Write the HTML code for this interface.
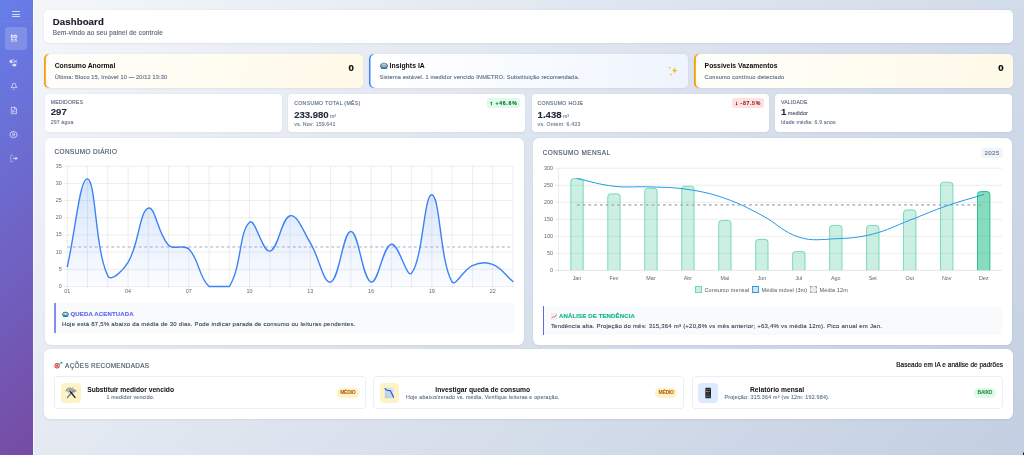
<!DOCTYPE html>
<html lang="pt-BR">
<head>
<meta charset="utf-8">
<title>Dashboard</title>
<style>
*{box-sizing:border-box;margin:0;padding:0}
html,body{width:1024px;height:455px;overflow:hidden}
body{font-family:"Liberation Sans",sans-serif;color:#1e293b;background:linear-gradient(135deg,#f5f7fa 0%,#c3cfe2 100%);position:relative;-webkit-font-smoothing:antialiased}
.app{position:absolute;left:0;top:0;width:1024px;height:455px;overflow:hidden;will-change:transform}
.t{white-space:nowrap;display:inline-block}
/* sidebar */
.sidebar{position:absolute;left:0;top:0;width:32.9px;height:455px;background:linear-gradient(135deg,#667eea 0%,#764ba2 100%)}
.sidebar:after{content:"";position:absolute;left:32.9px;top:0;width:.8px;height:455px;background:rgba(255,255,255,.6)}
.sb-sep{position:absolute;left:0;top:21.3px;width:32.9px;height:.5px;background:rgba(255,255,255,.05)}
.sb-act{position:absolute;left:4.9px;top:27.1px;width:21.9px;height:22.7px;border-radius:3.2px;background:rgba(255,255,255,.17)}
.sb-icons{position:absolute;left:0;top:0}
.burger{position:absolute;left:11.8px;top:11px;width:8.2px;height:6.6px}
.burger i{position:absolute;left:0;width:8.2px;height:1px;background:rgba(255,255,255,.72);border-radius:.5px}
/* cards */
.card{position:absolute;background:#fff;border-radius:4.8px;box-shadow:0 .8px 2.4px rgba(30,41,80,.07)}
.hdr{left:44.4px;top:10px;width:968.5px;height:32.8px}
.hdr h1{position:absolute;left:8.4px;top:5.9px;font-size:9.6px;line-height:12px;font-weight:700;color:#1a1a2e;-webkit-text-stroke:.15px}
.hdr p{position:absolute;left:8.4px;top:18.9px;font-size:6.4px;line-height:8px;color:#626a78;-webkit-text-stroke:.16px}
/* alerts */
.alert{position:absolute;top:54.3px;width:318.6px;height:33.5px;border-radius:4.8px}
.alert.warn{background:linear-gradient(100deg,#fffefa 0%,#fffcf2 50%,#fff9e7 100%);box-shadow:inset 1.8px 0 0 #f59e0b,0 .8px 2.4px rgba(30,41,80,.06)}
.alert.info{background:linear-gradient(100deg,#ffffff 0%,#f8fbff 50%,#eef4fe 100%);box-shadow:inset 1.5px 0 0 #3b82f6,0 .8px 2.4px rgba(30,41,80,.06)}
.alert h3{position:absolute;left:10.3px;top:8.1px;font-size:6.8px;line-height:8px;font-weight:700;color:#0b0b0f}
.alert p{position:absolute;left:10.3px;top:19.7px;font-size:5.6px;line-height:7px;color:#64748b;-webkit-text-stroke:.15px}
.alert .num{position:absolute;right:9.2px;top:7.9px;font-size:9.6px;line-height:12px;font-weight:700;color:#0b0b0f;-webkit-text-stroke:.22px}
.ico{display:inline-block;vertical-align:top}
/* stats */
.stat{position:absolute;top:93.5px;width:237.3px;height:38.9px;background:#fff;border-radius:4px;box-shadow:0 .8px 2.4px rgba(30,41,80,.06)}
.stat .lb{position:absolute;left:6.1px;font-size:5.2px;line-height:6px;color:#64748b;font-weight:400;-webkit-text-stroke:.16px}
.stat .v{position:absolute;left:6.1px;font-size:9.6px;line-height:10px;font-weight:700;color:#1e293b;-webkit-text-stroke:.12px}
.stat .v small{font-size:5.2px;font-weight:400;color:#64748b;margin-left:1.4px;-webkit-text-stroke:.08px}
.stat .v em{font-style:normal;font-size:5.6px;font-weight:400;color:#475569;margin-left:1.4px;-webkit-text-stroke:.1px}
.stat .s{position:absolute;left:6.1px;font-size:5.2px;line-height:6px;color:#64748b;-webkit-text-stroke:.1px}
.badge{position:absolute;right:5.1px;top:4.5px;height:10px;border-radius:2.6px;font-size:5.2px;line-height:10px;font-weight:700;padding:0 2.8px 0 3.2px;-webkit-text-stroke:.1px}
.badge .ar{-webkit-text-stroke:.45px}
.badge.up{background:#dcfce7;color:#166534}
.badge.down{background:#fee2e2;color:#991b1b}
/* chart cards */
.cc{border-radius:6.4px}
.cc h2,.acts h2{position:absolute;font-size:6.4px;line-height:8px;font-weight:400;color:#475569;-webkit-text-stroke:.14px}
.pill{position:absolute;width:21.6px;height:10px;border-radius:2.8px;background:#f1f5f9;color:#64748b;font-size:6.2px;letter-spacing:.3px;-webkit-text-stroke:.12px;line-height:10px;text-align:center}
svg.chart{position:absolute;left:0;top:0;width:1024px;height:455px;pointer-events:none}
svg.chart .g{stroke:rgba(0,0,0,.13);stroke-width:.55}
svg.chart .g0{stroke:rgba(0,0,0,.2);stroke-width:.55}
svg.chart .tk{font-family:"Liberation Sans",sans-serif;font-size:5.4px;fill:#666}
.legend{position:absolute;top:285.6px;left:695.3px;font-size:5.5px;line-height:8px;color:#555;white-space:nowrap}
.legend i{display:inline-block;width:6.6px;height:7px;vertical-align:-1.6px;margin-right:2.6px}
.legend span{margin-right:1.5px}
.box{position:absolute;background:#f8fafc;border-radius:0 2.4px 2.4px 0}
.box:before{content:"";position:absolute;left:0;top:0;height:100%}
.box.l:before{width:1.7px;background:#818cf8}
.box.r:before{width:1.2px;background:#6366f1}
.box h4{position:absolute;left:7.9px;font-size:6px;line-height:7px;font-weight:700;white-space:nowrap;-webkit-text-stroke:.15px}
.box p{position:absolute;left:7.9px;font-size:6px;line-height:7px;color:#334155;white-space:nowrap;-webkit-text-stroke:.1px}
.corner{position:absolute;right:-2px;bottom:-1.5px;width:3.2px;height:4.6px;border-radius:1.6px;background:#0b0d12}
/* actions */
.acts{left:44.4px;top:348.8px;width:968.5px;height:70px;border-radius:6.4px}
.acts .note{position:absolute;right:9.8px;top:12.6px;font-size:6.4px;line-height:8px;color:#111318;-webkit-text-stroke:.2px #111318}
.act{position:absolute;top:27.6px;width:311px;height:32.8px;border-radius:4.4px;background:#fff;box-shadow:inset 0 0 0 .7px #e3e9f1}
.act .ib{position:absolute;left:7px;top:7px;width:19.4px;height:19.4px;border-radius:4px}
.act .tx{position:absolute;top:9.4px;text-align:center}
.act .tx b{display:block;font-size:6.7px;line-height:8px;font-weight:700;color:#0b0b0f;white-space:nowrap}
.act .tx span.sub{display:block;font-size:5.3px;line-height:6px;margin-top:.5px;color:#64748b;white-space:nowrap;-webkit-text-stroke:.12px}
.tag{position:absolute;right:6.7px;top:12px;height:9.2px;border-radius:4.6px;font-size:5px;line-height:9.2px;font-weight:700;padding:0 3.6px}
.tag.med{background:#fef3c7;color:#b45309}
.tag.low{background:#dcfce7;color:#15803d}
</style>
</head>
<body>
<div class="app">
<aside class="sidebar">
  <div class="burger"><i style="top:0"></i><i style="top:2.7px"></i><i style="top:5.4px"></i></div>
  <div class="sb-sep"></div>
  <div class="sb-act"></div>
  <svg class="sb-icons" width="33" height="170" viewBox="0 0 33 170" aria-hidden="true">
    <g fill="none" stroke="#fff" stroke-linecap="round" stroke-linejoin="round">
      <g stroke-width=".85" stroke-opacity=".95"><rect x="11.300" y="35.300" width="1.900" height="2.700" rx=".2"/><rect x="14.800" y="35.300" width="1.900" height="2.700" rx=".2"/></g>
      <g stroke-width=".8" stroke-opacity=".62"><rect x="11.300" y="39.500" width="1.900" height="1.900" rx=".2"/><rect x="14.800" y="39.500" width="1.900" height="1.900" rx=".2"/></g>
      <g stroke-opacity=".85" stroke-width=".75"><rect x="10.400" y="60.300" width="1.700" height="2.300" fill="#fff" fill-opacity=".75"/><rect x="13.200" y="64.300" width="2.700" height="1.600" fill="#fff" fill-opacity=".75"/><path d="M13.400 62.700 16.800 60.200M14.200 60.600 16.800 62.600M13.200 59.300h.2"/></g>
      <g stroke-opacity=".85" stroke-width=".7"><path d="M11.300 87.400c.9-.6 1-1.500 1-2.400a1.750 1.750 0 0 1 3.500 0c0 .9.100 1.800 1 2.400zM13.400 89.400h.6"/></g>
      <g stroke-opacity=".85" stroke-width=".7"><path d="M14.600 107.300h-3.300v6.400h5.200v-4.500zM14.600 107.300v1.900h1.900M12.500 110.300h1M12.500 111.800h2.700"/></g>
      <g stroke-opacity=".85" stroke-width=".75"><circle cx="13.500" cy="134.500" r="1.100"/><path d="M13.500 131.300l.9.700 1.200-.2.400 1.100 1.100.600-.4 1.100.4 1.100-1.100.6-.4 1.100-1.200-.2-.9.700-.9-.7-1.200.2-.4-1.100-1.100-.6.400-1.100-.4-1.100 1.100-.6.400-1.100 1.200.2z"/></g>
      <path d="M12.700 155.200h-1.200a.7.700 0 0 0-.7.700v5.200a.7.700 0 0 0 .7.700h1.200" stroke-opacity=".55" stroke-width=".75"/>
      <path d="M13.300 158.400h3.600M15.500 156.900l1.500 1.500-1.500 1.500" stroke-opacity=".9" stroke-width=".8"/>
    </g>
  </svg>
</aside>

<header class="card hdr">
  <h1><span id="h1" class="t" style="letter-spacing:0.109px">Dashboard</span></h1>
  <p><span id="h1s" class="t" style="letter-spacing:0.184px">Bem-vindo ao seu painel de controle</span></p>
</header>

<section class="alert warn" style="left:44.4px">
  <h3><span id="a1t" class="t" style="letter-spacing:0.004px">Consumo Anormal</span></h3>
  <p><span id="a1s" class="t" style="letter-spacing:0.154px">Última: Bloco 15, Imóvel 10 — 20/12 13:30</span></p>
  <div class="num">0</div>
</section>
<section class="alert info" style="left:369.2px">
  <h3><svg class="ico" width="8" height="7.4" viewBox="0 0 43 40" style="margin:-.3px 1.5px 0 .5px"><rect x="19" y="0" width="5" height="9" rx="2" fill="#f59e0b"/><rect x="0" y="14" width="6" height="13" rx="3" fill="#e0393e"/><rect x="37" y="14" width="6" height="13" rx="3" fill="#e0393e"/><rect x="4" y="7" width="35" height="33" rx="8" fill="#2a9bb5"/><rect x="9" y="12" width="25" height="13" rx="5" fill="#c9ecf3"/><circle cx="16" cy="18.500" r="3" fill="#e0393e"/><circle cx="27" cy="18.500" r="3" fill="#e0393e"/><rect x="12" y="30" width="19" height="5" rx="2" fill="#1b6f85"/></svg><span id="a2t" class="t" style="letter-spacing:0.055px">Insights IA</span></h3>
  <p><span id="a2s" class="t" style="letter-spacing:0.195px">Sistema estável. 1 medidor vencido INMETRO. Substituição recomendada.</span></p>
  <svg style="position:absolute;left:297.8px;top:10.4px" width="12" height="12" viewBox="0 0 22 22"><path d="M14 3.500c.6 4.600 1.900 6 6.500 6.600-4.600.6-5.900 2-6.500 6.600-.6-4.600-1.900-6-6.500-6.600 4.600-.6 5.900-2 6.500-6.600z" fill="#f8b92a"/><path d="M5 2c.3 2.100.9 2.700 3 3-2.100.3-2.700.9-3 3-.3-2.100-.9-2.700-3-3 2.100-.3 2.700-.9 3-3zM7.500 14c.3 2.300 1 3 3.300 3.300-2.300.3-3 1-3.300 3.300-.3-2.300-1-3-3.300-3.300 2.300-.3 3-1 3.300-3.300z" fill="#fbc83c"/></svg>
</section>
<section class="alert warn" style="left:694.3px">
  <h3><span id="a3t" class="t" style="letter-spacing:0.019px">Possíveis Vazamentos</span></h3>
  <p><span id="a3s" class="t" style="letter-spacing:0.260px">Consumo contínuo detectado</span></p>
  <div class="num">0</div>
</section>

<section class="stat" style="left:44.7px">
  <div class="lb" style="top:5.6px"><span id="s1l" class="t" style="letter-spacing:0.085px">MEDIDORES</span></div>
  <div class="v" style="top:13.7px"><span id="s1v" class="t" style="letter-spacing:-0.008px">297</span></div>
  <div class="s" style="top:25.6px"><span id="s1s" class="t" style="letter-spacing:0.123px">297 água</span></div>
</section>
<section class="stat" style="left:288.1px">
  <div class="lb" style="top:6.8px"><span id="s2l" class="t" style="letter-spacing:0.304px">CONSUMO TOTAL (MÊS)</span></div>
  <div class="badge up"><span id="s2b" class="t" style="letter-spacing:0.731px"><b class="ar">↑</b> +46.6%</span></div>
  <div class="v" style="top:16.3px"><span id="s2v" class="t" style="letter-spacing:-0.031px">233.980</span><small>m³</small></div>
  <div class="s" style="top:27.6px"><span id="s2s" class="t" style="letter-spacing:0.144px">vs. Nov: 159.641</span></div>
</section>
<section class="stat" style="left:531.5px">
  <div class="lb" style="top:6.8px"><span id="s3l" class="t" style="letter-spacing:0.284px">CONSUMO HOJE</span></div>
  <div class="badge down"><span id="s3b" class="t" style="letter-spacing:0.659px"><b class="ar">↓</b> -87.5%</span></div>
  <div class="v" style="top:16.3px"><span id="s3v" class="t" style="letter-spacing:-0.004px">1.438</span><small>m³</small></div>
  <div class="s" style="top:27.6px"><span id="s3s" class="t" style="letter-spacing:0.216px">vs. Ontem: 6.433</span></div>
</section>
<section class="stat" style="left:774.9px">
  <div class="lb" style="top:5.6px"><span id="s4l" class="t" style="letter-spacing:0.174px">VALIDADE</span></div>
  <div class="v" style="top:13.7px"><span id="s4v" class="t">1</span><em>medidor</em></div>
  <div class="s" style="top:25.6px"><span id="s4s" class="t" style="letter-spacing:0.163px">Idade média: 6.9 anos</span></div>
</section>

<section class="card cc" style="left:44.7px;top:138.4px;width:479.4px;height:206.4px">
  <h2 style="left:9.9px;top:9.9px"><span id="c1t" class="t" style="letter-spacing:0.402px">CONSUMO DIÁRIO</span></h2>
  <div class="box l" style="left:9.4px;top:164.9px;width:459.7px;height:29.3px">
    <h4 style="top:7.3px;color:#6366f1"><svg class="ico" width="6.9" height="6.4" viewBox="0 0 43 40" style="margin:.2px 1.7px 0 0"><rect x="19" y="0" width="5" height="9" rx="2" fill="#f59e0b"/><rect x="0" y="14" width="6" height="13" rx="3" fill="#e0393e"/><rect x="37" y="14" width="6" height="13" rx="3" fill="#e0393e"/><rect x="4" y="7" width="35" height="33" rx="8" fill="#2a9bb5"/><rect x="9" y="12" width="25" height="13" rx="5" fill="#c9ecf3"/><circle cx="16" cy="18.500" r="3" fill="#e0393e"/><circle cx="27" cy="18.500" r="3" fill="#e0393e"/><rect x="12" y="30" width="19" height="5" rx="2" fill="#1b6f85"/></svg><span id="b1t" class="t" style="letter-spacing:0.151px">QUEDA ACENTUADA</span></h4>
    <p style="top:17.3px"><span id="b1p" class="t" style="letter-spacing:0.231px">Hoje está 87,5% abaixo da média de 30 dias. Pode indicar parada de consumo ou leituras pendentes.</span></p>
  </div>
</section>
<section class="card cc" style="left:532.8px;top:138.4px;width:479.4px;height:206.4px">
  <h2 style="left:10px;top:10.4px"><span id="c2t" class="t" style="letter-spacing:0.443px">CONSUMO MENSAL</span></h2>
  <div class="box r" style="left:10.2px;top:167.5px;width:459.2px;height:28.9px">
    <h4 style="top:7.1px;color:#10b981"><svg class="ico" width="6.6" height="6.6" viewBox="0 0 20 20" style="margin:.1px 1.5px 0 0"><rect x="1" y="1" width="18" height="18" rx="2" fill="#f3f4f6" stroke="#d1d5db" stroke-width="1"/><path d="M3 15l5-5 3 3 6-8" fill="none" stroke="#ef4444" stroke-width="2.4" stroke-linejoin="round" stroke-linecap="round"/></svg><span id="b2t" class="t" style="letter-spacing:0.152px">ANÁLISE DE TENDÊNCIA</span></h4>
    <p style="top:16.8px"><span id="b2p" class="t" style="letter-spacing:0.224px">Tendência alta. Projeção do mês: 315,364 m³ (+20,8% vs mês anterior; +63,4% vs média 12m). Pico anual em Jan.</span></p>
  </div>
</section>
<div class="pill" style="left:981.3px;top:148px">2025</div>

<div class="legend"><i style="background:rgba(16,185,129,.22);box-shadow:inset 0 0 0 .8px rgba(16,185,129,.6)"></i><span><span id="lg1" class="t" style="letter-spacing:0.146px">Consumo mensal</span></span><i style="background:#dbe2ea;box-shadow:inset 0 0 0 .9px #1e9be9"></i><span><span id="lg2" class="t" style="letter-spacing:0.112px">Média móvel (3m)</span></span><i style="background:rgba(156,163,175,.22);border:1px dashed rgba(140,147,160,.75)"></i><span><span id="lg3" class="t" style="letter-spacing:0.135px">Média 12m</span></span></div>

<svg class="chart" viewBox="0 0 1024 455">
<defs><linearGradient id="lg" x1="0" y1="166" x2="0" y2="287" gradientUnits="userSpaceOnUse"><stop offset="0" stop-color="#3b82f6" stop-opacity=".24"/><stop offset="1" stop-color="#3b82f6" stop-opacity=".02"/></linearGradient></defs>
<line x1="63.20" y1="286.50" x2="512.90" y2="286.50" class="g"/>
<text x="61.70" y="288.05" class="tk" text-anchor="end">0</text>
<line x1="63.20" y1="269.31" x2="512.90" y2="269.31" class="g"/>
<text x="61.70" y="270.86" class="tk" text-anchor="end">5</text>
<line x1="63.20" y1="252.13" x2="512.90" y2="252.13" class="g"/>
<text x="61.70" y="253.68" class="tk" text-anchor="end">10</text>
<line x1="63.20" y1="234.94" x2="512.90" y2="234.94" class="g"/>
<text x="61.70" y="236.49" class="tk" text-anchor="end">15</text>
<line x1="63.20" y1="217.76" x2="512.90" y2="217.76" class="g"/>
<text x="61.70" y="219.31" class="tk" text-anchor="end">20</text>
<line x1="63.20" y1="200.57" x2="512.90" y2="200.57" class="g"/>
<text x="61.70" y="202.12" class="tk" text-anchor="end">25</text>
<line x1="63.20" y1="183.39" x2="512.90" y2="183.39" class="g"/>
<text x="61.70" y="184.94" class="tk" text-anchor="end">30</text>
<line x1="63.20" y1="166.20" x2="512.90" y2="166.20" class="g"/>
<text x="61.70" y="167.75" class="tk" text-anchor="end">35</text>
<line x1="67.30" y1="166.20" x2="67.30" y2="288.90" class="g"/>
<line x1="87.55" y1="166.20" x2="87.55" y2="288.90" class="g"/>
<line x1="107.81" y1="166.20" x2="107.81" y2="288.90" class="g"/>
<line x1="128.06" y1="166.20" x2="128.06" y2="288.90" class="g"/>
<line x1="148.32" y1="166.20" x2="148.32" y2="288.90" class="g"/>
<line x1="168.57" y1="166.20" x2="168.57" y2="288.90" class="g"/>
<line x1="188.83" y1="166.20" x2="188.83" y2="288.90" class="g"/>
<line x1="209.08" y1="166.20" x2="209.08" y2="288.90" class="g"/>
<line x1="229.34" y1="166.20" x2="229.34" y2="288.90" class="g"/>
<line x1="249.59" y1="166.20" x2="249.59" y2="288.90" class="g"/>
<line x1="269.85" y1="166.20" x2="269.85" y2="288.90" class="g"/>
<line x1="290.10" y1="166.20" x2="290.10" y2="288.90" class="g"/>
<line x1="310.35" y1="166.20" x2="310.35" y2="288.90" class="g"/>
<line x1="330.61" y1="166.20" x2="330.61" y2="288.90" class="g"/>
<line x1="350.86" y1="166.20" x2="350.86" y2="288.90" class="g"/>
<line x1="371.12" y1="166.20" x2="371.12" y2="288.90" class="g"/>
<line x1="391.37" y1="166.20" x2="391.37" y2="288.90" class="g"/>
<line x1="411.63" y1="166.20" x2="411.63" y2="288.90" class="g"/>
<line x1="431.88" y1="166.20" x2="431.88" y2="288.90" class="g"/>
<line x1="452.14" y1="166.20" x2="452.14" y2="288.90" class="g"/>
<line x1="472.39" y1="166.20" x2="472.39" y2="288.90" class="g"/>
<line x1="492.65" y1="166.20" x2="492.65" y2="288.90" class="g"/>
<line x1="512.90" y1="166.20" x2="512.90" y2="288.90" class="g"/>
<text x="67.30" y="293.40" class="tk" text-anchor="middle">01</text>
<text x="128.06" y="293.40" class="tk" text-anchor="middle">04</text>
<text x="188.83" y="293.40" class="tk" text-anchor="middle">07</text>
<text x="249.59" y="293.40" class="tk" text-anchor="middle">10</text>
<text x="310.35" y="293.40" class="tk" text-anchor="middle">13</text>
<text x="371.12" y="293.40" class="tk" text-anchor="middle">16</text>
<text x="431.88" y="293.40" class="tk" text-anchor="middle">19</text>
<text x="492.65" y="293.40" class="tk" text-anchor="middle">22</text>
<path d="M67.30 266.56 C75.40 231.51 79.84 177.15 87.55 178.92 C96.04 180.86 94.80 249.02 107.81 275.84 C111.00 282.43 123.28 270.44 128.06 262.44 C139.48 243.35 138.95 212.11 148.32 208.13 C155.15 205.23 157.68 234.25 168.57 245.25 C173.88 250.61 183.54 243.66 188.83 249.04 C199.75 260.15 198.10 276.34 209.08 286.50 C214.30 286.50 225.59 286.50 229.34 286.50 C241.80 266.73 238.95 231.52 249.59 222.23 C255.16 217.36 262.33 252.31 269.85 251.10 C278.54 249.70 281.25 217.50 290.10 215.69 C297.45 214.20 303.32 231.32 310.35 242.85 C319.52 257.86 323.36 284.06 330.61 282.03 C339.56 279.53 342.76 231.51 350.86 231.51 C358.97 231.51 362.06 279.19 371.12 282.03 C378.26 284.27 382.48 246.18 391.37 244.22 C398.68 242.61 406.71 279.10 411.63 273.10 C422.91 259.31 424.19 193.03 431.88 194.73 C440.40 196.61 439.59 260.10 452.14 282.03 C455.79 286.50 463.27 269.51 472.39 265.53 C479.47 262.45 485.63 261.61 492.65 264.39 C501.83 268.02 504.80 274.69 512.90 281.56 L512.90 286.50 L67.30 286.50 Z" fill="url(#lg)"/>
<line x1="67.30" y1="246.97" x2="512.90" y2="246.97" stroke="#93a5c4" stroke-opacity="1" stroke-width=".9" stroke-dasharray="2.9 2.6"/>
<path d="M67.30 266.56 C75.40 231.51 79.84 177.15 87.55 178.92 C96.04 180.86 94.80 249.02 107.81 275.84 C111.00 282.43 123.28 270.44 128.06 262.44 C139.48 243.35 138.95 212.11 148.32 208.13 C155.15 205.23 157.68 234.25 168.57 245.25 C173.88 250.61 183.54 243.66 188.83 249.04 C199.75 260.15 198.10 276.34 209.08 286.50 C214.30 286.50 225.59 286.50 229.34 286.50 C241.80 266.73 238.95 231.52 249.59 222.23 C255.16 217.36 262.33 252.31 269.85 251.10 C278.54 249.70 281.25 217.50 290.10 215.69 C297.45 214.20 303.32 231.32 310.35 242.85 C319.52 257.86 323.36 284.06 330.61 282.03 C339.56 279.53 342.76 231.51 350.86 231.51 C358.97 231.51 362.06 279.19 371.12 282.03 C378.26 284.27 382.48 246.18 391.37 244.22 C398.68 242.61 406.71 279.10 411.63 273.10 C422.91 259.31 424.19 193.03 431.88 194.73 C440.40 196.61 439.59 260.10 452.14 282.03 C455.79 286.50 463.27 269.51 472.39 265.53 C479.47 262.45 485.63 261.61 492.65 264.39 C501.83 268.02 504.80 274.69 512.90 281.56" fill="none" stroke="#3b82f6" stroke-width="1.4" stroke-linejoin="round" stroke-linecap="round"/>
<line x1="554.40" y1="270.30" x2="1002.20" y2="270.30" class="g0"/>
<text x="552.90" y="271.85" class="tk" text-anchor="end">0</text>
<line x1="554.40" y1="253.28" x2="1002.20" y2="253.28" class="g"/>
<text x="552.90" y="254.83" class="tk" text-anchor="end">50</text>
<line x1="554.40" y1="236.27" x2="1002.20" y2="236.27" class="g"/>
<text x="552.90" y="237.82" class="tk" text-anchor="end">100</text>
<line x1="554.40" y1="219.25" x2="1002.20" y2="219.25" class="g"/>
<text x="552.90" y="220.80" class="tk" text-anchor="end">150</text>
<line x1="554.40" y1="202.23" x2="1002.20" y2="202.23" class="g"/>
<text x="552.90" y="203.78" class="tk" text-anchor="end">200</text>
<line x1="554.40" y1="185.22" x2="1002.20" y2="185.22" class="g"/>
<text x="552.90" y="186.77" class="tk" text-anchor="end">250</text>
<line x1="554.40" y1="168.20" x2="1002.20" y2="168.20" class="g"/>
<text x="552.90" y="169.75" class="tk" text-anchor="end">300</text>
<line x1="558.50" y1="168.20" x2="558.50" y2="272.70" class="g"/>
<path d="M570.79 270.30 L570.79 181.51 Q570.79 178.61 573.69 178.61 L580.29 178.61 Q583.19 178.61 583.19 181.51 L583.19 270.30" fill="rgba(16,185,129,.22)" stroke="rgba(16,185,129,.62)" stroke-width=".8"/>
<text x="576.99" y="279.60" class="tk" text-anchor="middle">Jan</text>
<path d="M607.76 270.30 L607.76 196.73 Q607.76 193.83 610.66 193.83 L617.26 193.83 Q620.16 193.83 620.16 196.73 L620.16 270.30" fill="rgba(16,185,129,.22)" stroke="rgba(16,185,129,.62)" stroke-width=".8"/>
<text x="613.96" y="279.60" class="tk" text-anchor="middle">Fev</text>
<path d="M644.74 270.30 L644.74 191.18 Q644.74 188.28 647.64 188.28 L654.24 188.28 Q657.14 188.28 657.14 191.18 L657.14 270.30" fill="rgba(16,185,129,.22)" stroke="rgba(16,185,129,.62)" stroke-width=".8"/>
<text x="650.94" y="279.60" class="tk" text-anchor="middle">Mar</text>
<path d="M681.71 270.30 L681.71 189.14 Q681.71 186.24 684.61 186.24 L691.21 186.24 Q694.11 186.24 694.11 189.14 L694.11 270.30" fill="rgba(16,185,129,.22)" stroke="rgba(16,185,129,.62)" stroke-width=".8"/>
<text x="687.91" y="279.60" class="tk" text-anchor="middle">Abr</text>
<path d="M718.69 270.30 L718.69 223.38 Q718.69 220.48 721.59 220.48 L728.19 220.48 Q731.09 220.48 731.09 223.38 L731.09 270.30" fill="rgba(16,185,129,.22)" stroke="rgba(16,185,129,.62)" stroke-width=".8"/>
<text x="724.89" y="279.60" class="tk" text-anchor="middle">Mai</text>
<path d="M755.66 270.30 L755.66 242.23 Q755.66 239.33 758.56 239.33 L765.16 239.33 Q768.06 239.33 768.06 242.23 L768.06 270.30" fill="rgba(16,185,129,.22)" stroke="rgba(16,185,129,.62)" stroke-width=".8"/>
<text x="761.86" y="279.60" class="tk" text-anchor="middle">Jun</text>
<path d="M792.64 270.30 L792.64 254.41 Q792.64 251.51 795.54 251.51 L802.14 251.51 Q805.04 251.51 805.04 254.41 L805.04 270.30" fill="rgba(16,185,129,.22)" stroke="rgba(16,185,129,.62)" stroke-width=".8"/>
<text x="798.84" y="279.60" class="tk" text-anchor="middle">Jul</text>
<path d="M829.61 270.30 L829.61 228.28 Q829.61 225.38 832.51 225.38 L839.11 225.38 Q842.01 225.38 842.01 228.28 L842.01 270.30" fill="rgba(16,185,129,.22)" stroke="rgba(16,185,129,.62)" stroke-width=".8"/>
<text x="835.81" y="279.60" class="tk" text-anchor="middle">Ago</text>
<path d="M866.59 270.30 L866.59 228.28 Q866.59 225.38 869.49 225.38 L876.09 225.38 Q878.99 225.38 878.99 228.28 L878.99 270.30" fill="rgba(16,185,129,.22)" stroke="rgba(16,185,129,.62)" stroke-width=".8"/>
<text x="872.79" y="279.60" class="tk" text-anchor="middle">Set</text>
<path d="M903.56 270.30 L903.56 212.79 Q903.56 209.89 906.46 209.89 L913.06 209.89 Q915.96 209.89 915.96 212.79 L915.96 270.30" fill="rgba(16,185,129,.22)" stroke="rgba(16,185,129,.62)" stroke-width=".8"/>
<text x="909.76" y="279.60" class="tk" text-anchor="middle">Out</text>
<path d="M940.54 270.30 L940.54 185.16 Q940.54 182.26 943.44 182.26 L950.04 182.26 Q952.94 182.26 952.94 185.16 L952.94 270.30" fill="rgba(16,185,129,.22)" stroke="rgba(16,185,129,.62)" stroke-width=".8"/>
<text x="946.74" y="279.60" class="tk" text-anchor="middle">Nov</text>
<path d="M977.51 270.30 L977.51 194.48 Q977.51 191.58 980.41 191.58 L987.01 191.58 Q989.91 191.58 989.91 194.48 L989.91 270.30" fill="rgba(16,185,129,.5)" stroke="rgba(16,185,129,.95)" stroke-width=".9"/>
<text x="983.71" y="279.60" class="tk" text-anchor="middle">Dez</text>
<line x1="576.99" y1="204.92" x2="983.71" y2="204.92" stroke="#a2a7b4" stroke-opacity=".78" stroke-width="1.6" stroke-dasharray="2.6 3.14"/>
<path d="M576.99 178.61 C591.78 181.66 599.02 184.55 613.96 186.22 C628.60 187.86 636.16 186.26 650.94 186.91 C665.74 187.55 673.31 187.19 687.91 189.45 C702.89 191.76 710.60 193.33 724.89 198.33 C740.18 203.69 747.46 207.80 761.86 215.35 C777.04 223.31 782.96 232.08 798.84 237.11 C812.54 241.44 821.07 239.34 835.81 238.74 C850.65 238.13 858.43 237.69 872.79 234.09 C888.01 230.28 895.01 225.85 909.76 220.21 C924.59 214.55 931.76 211.04 946.74 205.84 C961.34 200.78 968.92 199.08 983.71 194.58" fill="none" stroke="#1e9be9" stroke-width="1" stroke-linecap="round"/>
</svg>

<section class="card acts">
  <h2 style="left:9.9px;top:12.9px"><svg class="ico" width="9.2" height="7.6" viewBox="0 0 46 38" style="margin:-.5px 1.6px 0 0"><ellipse cx="15.500" cy="23.500" rx="13" ry="14" fill="#d42a2f"/><ellipse cx="15.500" cy="23.500" rx="8.800" ry="9.600" fill="#fbe3e3"/><ellipse cx="15.500" cy="23.500" rx="4.800" ry="5.400" fill="#d42a2f"/><path d="M19 21 37 8" stroke="#2fb4c0" stroke-width="4.200" stroke-linecap="round"/><path d="M33 3l5 2.500 6-1-3.500 5.500 1 5-6-2z" fill="#249aa6"/></svg><span id="at" class="t" style="letter-spacing:0.303px">AÇÕES RECOMENDADAS</span></h2>
  <div class="note"><span id="an" class="t" style="letter-spacing:0.071px">Baseado em IA e análise de padrões</span></div>

  <div class="act" style="left:9.9px;width:311.3px">
    <div class="ib" style="background:#fef3c7"><svg width="19.2" height="19.2" viewBox="0 0 48 48"><g fill="none" stroke-linecap="round"><path d="M33 17 16 36" stroke="#7d858f" stroke-width="3.800"/><path d="M29.500 12.500a5.200 5.200 0 1 0 7.500 6.500" stroke="#8f98a3" stroke-width="3.400"/><path d="M22 20l13 16" stroke="#1f2328" stroke-width="3.600"/><path d="M12 19.500c.5-4.500 5.500-8.500 12.500-7.500l1.500 3.500-4.500 1.500 1.500 3.500-4.500 3-2.500-3.500z" fill="#a9b1bb" stroke="#6b7280" stroke-width="1"/></g></svg></div>
    <div class="tx" style="left:32.9px"><b><span id="x1t" class="t" style="letter-spacing:0.009px">Substituir medidor vencido</span></b><span class="sub"><span id="x1s" class="t" style="letter-spacing:0.190px">1 medidor vencido.</span></span></div>
    <div class="tag med"><span id="x1b" class="t" style="letter-spacing:-0.248px">MÉDIO</span></div>
  </div>
  <div class="act" style="left:328.6px">
    <div class="ib" style="background:#fef3c7"><svg width="19.2" height="19.2" viewBox="0 0 48 48"><defs><linearGradient id="pg" x1="1" y1="0" x2="0" y2="1"><stop offset="0" stop-color="#e2eaf5"/><stop offset="1" stop-color="#b7c7dc"/></linearGradient></defs><rect x="12" y="11.800" width="22.500" height="26.500" rx="1" fill="url(#pg)"/><path d="M12.800 14.300 17.700 18.400 26 19.200 34 35.500" fill="none" stroke="#2563d9" stroke-width="3" stroke-linejoin="round" stroke-linecap="round"/></svg></div>
    <div class="tx" style="left:32.9px"><b><span id="x2t" class="t" style="letter-spacing:0.012px">Investigar queda de consumo</span></b><span class="sub"><span id="x2s" class="t" style="letter-spacing:0.206px">Hoje abaixo/zerado vs. média. Verifique leituras e operação.</span></span></div>
    <div class="tag med"><span id="x2b" class="t" style="letter-spacing:-0.248px">MÉDIO</span></div>
  </div>
  <div class="act" style="left:647.2px">
    <div class="ib" style="background:#dbeafe;left:6.6px"><svg width="19.2" height="19.2" viewBox="0 0 48 48"><rect x="18.300" y="11.800" width="14.200" height="26.500" rx="2.200" fill="#2b2b30"/><rect x="20" y="14.500" width="10.800" height="20.500" fill="#1a1c22"/><rect x="20.500" y="15" width="3" height="3" fill="#22a35a"/><rect x="25" y="15" width="5" height="2.500" fill="#5b6270"/><rect x="20.500" y="20" width="4" height="2.500" fill="#e0b023"/><rect x="26" y="19.500" width="4.300" height="3" fill="#2d7de0"/><rect x="22" y="24" width="5" height="2.500" fill="#c0355a"/><rect x="21" y="28" width="8" height="3" fill="#4a4433"/><rect x="20.500" y="32" width="4" height="2.500" fill="#2a8fd0"/><rect x="26" y="32" width="4.300" height="2.500" fill="#2fa065"/></svg></div>
    <div class="tx" style="left:32.8px"><b><span id="x3t" class="t" style="letter-spacing:0.014px">Relatório mensal</span></b><span class="sub"><span id="x3s" class="t" style="letter-spacing:0.235px">Projeção: 315.364 m³ (vs 12m: 192.984).</span></span></div>
    <div class="tag low"><span id="x3b" class="t" style="letter-spacing:-0.211px">BAIXO</span></div>
  </div>
</section>
<div class="corner"></div>
</div>
</body>
</html>
